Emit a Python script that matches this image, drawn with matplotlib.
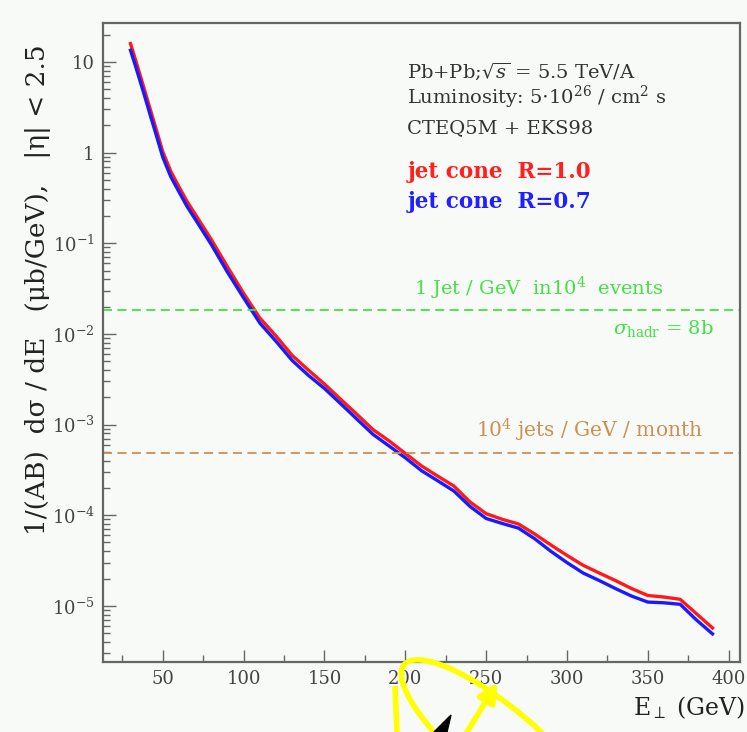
import matplotlib
matplotlib.use("Agg")
import matplotlib.pyplot as plt
import numpy as np
from matplotlib.patches import Ellipse, FancyArrowPatch, Polygon
from matplotlib.ticker import LogLocator, MultipleLocator, FuncFormatter

# ----------------------------------------------------------------------------
# Data
# ----------------------------------------------------------------------------
e_perp = [30, 32.5, 35, 37.5, 40, 42.5, 45, 47.5, 50, 55, 60, 65, 70, 80, 90,
          100, 110, 120, 130, 140, 150, 160, 170, 180, 190, 200, 210, 220,
          230, 240, 250, 260, 270, 280, 290, 300, 310, 320, 330, 340, 350,
          360, 370, 380, 390]

cone_r10 = [16, 11.5, 8.2, 5.8, 4.1, 2.9, 2.05, 1.45, 1.02, 0.62, 0.42, 0.29,
            0.21, 0.11, 0.055, 0.028, 0.015, 0.0095, 0.0058, 0.0040, 0.0028,
            0.0019, 0.0013, 0.00088, 0.00066, 0.00048, 0.00035, 0.00027,
            0.00021, 0.00014, 0.000104, 0.000090, 0.000080, 0.000062,
            0.000047, 0.000036, 0.000028, 0.000023, 0.000019, 0.0000155,
            0.0000130, 0.0000125, 0.0000118, 0.0000082, 0.0000057]

cone_r07 = [13.5, 9.8, 7.0, 5.0, 3.55, 2.5, 1.78, 1.26, 0.89, 0.54, 0.37,
            0.255, 0.185, 0.097, 0.048, 0.025, 0.0132, 0.0083, 0.0051, 0.0035,
            0.0025, 0.0017, 0.00115, 0.00078, 0.00058, 0.00043, 0.00031,
            0.00024, 0.000185, 0.000125, 0.000092, 0.000081, 0.000072,
            0.000055, 0.000040, 0.000030, 0.000023, 0.000019, 0.0000155,
            0.0000128, 0.0000110, 0.0000108, 0.0000104, 0.0000070, 0.0000049]

level_events = 0.0184     # 1 jet / GeV in 10^4 events
level_month = 0.00048     # 10^4 jets / GeV / month

# ----------------------------------------------------------------------------
# Style
# ----------------------------------------------------------------------------
plt.rcParams["font.family"] = ["DejaVu Serif"]
plt.rcParams["mathtext.fontset"] = "dejavuserif"

BG = "#f7faf7"
FRAME = "#666666"
TXT = "#333333"
GREEN = "#44e044"
ORANGE = "#cc9050"

fig = plt.figure(figsize=(7.47, 7.32), dpi=100, facecolor=BG)
ax = fig.add_axes([103 / 747, 1 - 662 / 732, (740 - 103) / 747, (662 - 23) / 732])
ax.set_facecolor(BG)

ax.plot(e_perp, cone_r10, color="#ff1a1a", lw=2.4, solid_joinstyle="round")
ax.plot(e_perp, cone_r07, color="#1a1aff", lw=2.4, solid_joinstyle="round")

ax.axhline(level_events, color=GREEN, lw=1.3, dashes=(5, 3))
ax.axhline(level_month, color=ORANGE, lw=1.3, dashes=(5, 3))

ax.set_yscale("log")
ax.set_xlim(13, 407)
ax.set_ylim(2.4e-6, 27)

ax.xaxis.set_major_locator(MultipleLocator(50))
ax.xaxis.set_minor_locator(MultipleLocator(25))
ax.yaxis.set_major_locator(LogLocator(base=10, numticks=20))
ax.yaxis.set_minor_locator(LogLocator(base=10, subs=np.arange(2, 10), numticks=20))


def ylab(v, pos):
    if np.isclose(v, 10):
        return "10"
    if np.isclose(v, 1):
        return "1"
    return r"$10^{%d}$" % int(round(np.log10(v)))


ax.yaxis.set_major_formatter(FuncFormatter(ylab))
ax.xaxis.set_major_formatter(FuncFormatter(lambda v, p: "%d" % v))

ax.tick_params(which="both", direction="in", colors=FRAME, labelcolor="#444444",
               top=False, right=False, width=1.0)
ax.tick_params(which="major", length=9, labelsize=13, pad=6)
ax.tick_params(which="minor", length=5)
for s in ax.spines.values():
    s.set_color(FRAME)
    s.set_linewidth(1.6)

# annotation text
ax.text(0.478, 0.925, r"Pb+Pb;$\sqrt{s}$ = 5.5 TeV/A", transform=ax.transAxes,
        fontsize=14, color=TXT, va="center")
ax.text(0.478, 0.883, r"Luminosity: 5$\cdot$10$^{26}$ / cm$^{2}$ s",
        transform=ax.transAxes, fontsize=14, color=TXT, va="center")
ax.text(0.478, 0.836, "CTEQ5M + EKS98", transform=ax.transAxes,
        fontsize=14, color=TXT, va="center")
ax.text(0.478, 0.767, "jet cone  R=1.0", transform=ax.transAxes,
        fontsize=15.5, color="#ff2020", weight="bold", va="center")
ax.text(0.478, 0.720, "jet cone  R=0.7", transform=ax.transAxes,
        fontsize=15.5, color="#2020ff", weight="bold", va="center")

ax.text(0.488, 0.585, r"1 Jet / GeV  in10$^{4}$  events", transform=ax.transAxes,
        fontsize=14, color=GREEN, va="center")
ax.text(0.800, 0.522, r"$\sigma_{\rm hadr}$ = 8b", transform=ax.transAxes,
        fontsize=14, color=GREEN, va="center")
ax.text(0.585, 0.363, r"10$^{4}$ jets / GeV / month", transform=ax.transAxes,
        fontsize=14.5, color=ORANGE, va="center")

fig.text(38 / 747, 1 - 290 / 732,
         "1/(AB)  dσ / dE   (μb/GeV),   |η| < 2.5",
         rotation=90, fontsize=19, color="#222222", ha="center", va="center")
fig.text(745 / 747, 1 - 708 / 732, r"E$_{\perp}$ (GeV)", fontsize=17,
         color="#222222", ha="right", va="center")

# yellow marker scribble on top of the image
ov = fig.add_axes([0, 0, 1, 1], facecolor="none")
ov.set_xlim(0, 747)
ov.set_ylim(732, 0)
ov.axis("off")
ov.add_patch(Ellipse((500, 745), 250, 74, angle=40, fill=False,
                     edgecolor="#ffff00", lw=4, clip_on=False))
ov.plot([395, 397], [686, 732], color="#ffff00", lw=4, solid_capstyle="butt")
ov.add_patch(FancyArrowPatch((462, 740), (499, 680), arrowstyle="-|>",
                             mutation_scale=28, color="#ffff00", lw=4))
ov.add_patch(Polygon([[434, 732], [451, 715], [447, 732]], closed=True,
                     color="black"))

fig.savefig("out.png", dpi=100, facecolor=BG)
